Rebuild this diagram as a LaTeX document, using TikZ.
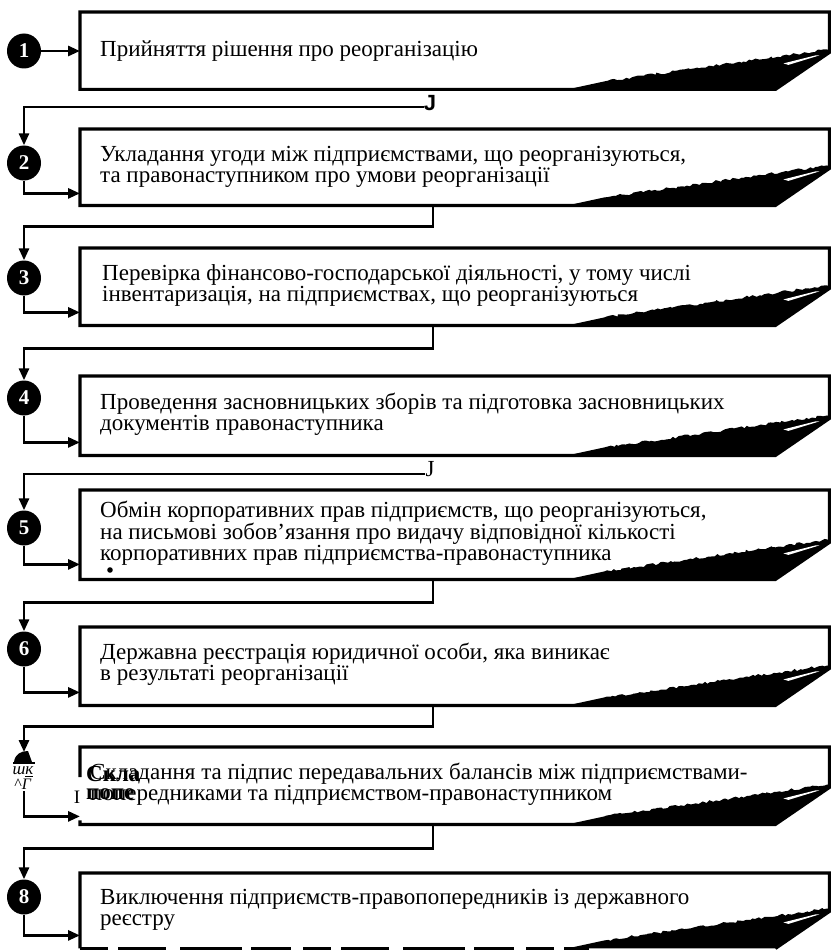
\documentclass[tikz,border=0pt]{standalone}
\usepackage{fontspec}
\setmainfont{Liberation Serif}
\newfontfamily\jsans{Liberation Sans}
\usetikzlibrary{arrows.meta,shapes.geometric,decorations.pathmorphing}

% black curled corner at the lower right of a step box
\newcommand\pagecurl[1]{%
  \fill ([xshift=-262pt]#1.south east) -- ([xshift=-225pt,yshift=8pt]#1.south east)
    decorate[decoration={random steps,segment length=3pt,amplitude=1.3pt}]{-- ([xshift=-2pt,yshift=40pt]#1.south east)}
    -- ([yshift=37pt]#1.south east) -- ([xshift=-54pt]#1.south east) -- cycle;
  \fill[white] ([xshift=-46pt,yshift=26pt]#1.south east) -- ([xshift=-14pt,yshift=34pt]#1.south east)
    -- ([xshift=-10pt,yshift=34pt]#1.south east) -- ([xshift=-41pt,yshift=24.5pt]#1.south east) -- cycle;}
% full outline of a step box
\newcommand\curlbox[1]{%
  \draw[frame] (#1.north west) -- (#1.north east) -- ([yshift=37pt]#1.south east)
    -- ([xshift=-54pt]#1.south east) -- (#1.south west) -- cycle;
  \pagecurl{#1}}

\begin{document}
\begin{tikzpicture}[x=1pt,y=-1pt,
  frame/.style={line width=3.2pt,line join=miter},
  link/.style={line width=2.8pt,-{Triangle[length=12pt,width=10pt]}},
  num/.style={ellipse,fill=black,minimum width=34pt,minimum height=35pt,inner sep=0pt,
    text=white,font=\fontsize{21}{21}\selectfont\bfseries},
  area/.style={draw=none,minimum width=749pt,anchor=north west,inner sep=0pt},
  txt/.style={anchor=west,align=left,inner sep=0pt,font=\fontsize{23}{21}\selectfont}]
\fill[white] (0,0) rectangle (830,952);
\useasboundingbox (0,0) rectangle (830,952);

% step areas
\node[area,minimum height=77pt] (b1) at (80,12) {};
\node[area,minimum height=76pt] (b2) at (80,129) {};
\node[area,minimum height=77pt] (b3) at (80,248) {};
\node[area,minimum height=79pt] (b4) at (80,376) {};
\node[area,minimum height=89pt] (b5) at (80,490) {};
\node[area,minimum height=78pt] (b6) at (80,627) {};
\node[area,minimum height=77pt] (b7) at (80,747) {};
\node[area,minimum height=75pt] (b8) at (80,873) {};

\curlbox{b1}
\curlbox{b2}
\curlbox{b3}
\curlbox{b4}
\curlbox{b5}
\curlbox{b6}
% box 7: left edge only partly printed
\draw[frame] ([yshift=-30pt]b7.north west) -- (b7.north west) -- (b7.north east)
  -- ([yshift=37pt]b7.south east) -- ([xshift=-54pt]b7.south east) -- (b7.south west)
  -- ([yshift=4pt]b7.south west);
\pagecurl{b7}
% box 8: broken bottom edge
\draw[frame] (b8.south west) -- (b8.north west) -- (b8.north east)
  -- ([yshift=37pt]b8.south east) -- ([xshift=-54pt]b8.south east);
\draw[frame,dash pattern=on 28pt off 10pt on 48pt off 14pt on 62pt off 9pt on 40pt off 12pt]
  (b8.south west) -- ([xshift=-240pt]b8.south east);
\pagecurl{b8}

% texts
\node[txt] (t1) at (100,51) {Прийняття рішення про реорганізацію};
\node[txt] (t2) at (100,167) {Укладання угоди між підприємствами, що реорганізуються,\\та правонаступником про умови реорганізації};
\node[txt] (t3) at (102,286) {Перевірка фінансово-господарської діяльності, у тому числі\\інвентаризація, на підприємствах, що реорганізуються};
\node[txt] (t4) at (100,414) {Проведення засновницьких зборів та підготовка засновницьких\\документів правонаступника};
\node[txt] (t5) at (100,533) {Обмін корпоративних прав підприємств, що реорганізуються,\\на письмові зобов'язання про видачу відповідної кількості\\корпоративних прав підприємства-правонаступника};
\node[txt] (t6) at (100,664) {Державна реєстрація юридичної особи, яка виникає\\в результаті реорганізації};
\node[txt] (t7) at (90,784) {Складання та підпис передавальних балансів між підприємствами-\\попередниками та підприємством-правонаступником};
\node[txt,font=\fontsize{23}{21}\selectfont\bfseries] (t7a) at (86,773.5) {Скла};
\node[txt,font=\fontsize{23}{21}\selectfont\bfseries] (t7b) at (86,794.5) {попе};
\node[txt] (t8) at (100,910) {Виключення підприємств-правопопередників із державного\\реєстру};
\fill (110,570) circle (2.8pt);
\node[font=\fontsize{19}{19}\selectfont,inner sep=0pt] (i7) at (77,797) {I};

% step numbers
\node[num] (c1) at (24,51) {1};
\node[num] (c2) at (24,163) {2};
\node[num] (c3) at (24,278) {3};
\node[num] (c4) at (24,398) {4};
\node[num] (c5) at (24,528) {5};
\node[num] (c6) at (24,649) {6};
\node[num] (c8) at (24,897) {8};
% damaged marker of step 7
\coordinate (c7top) at (24,752);
\coordinate (c7bot) at (24,791);
\fill (14,762) .. controls (15,754) and (21,751) .. (28,751) -- (32,762) -- cycle;
\draw[line width=1.3pt] (13,763) -- (35,763);
\node[inner sep=0pt,font=\fontsize{17}{17}\selectfont\itshape] (s7a) at (23,772) {ш\underline{к}};
\node[inner sep=0pt,font=\fontsize{16}{16}\selectfont] (s7b) at (23,784) {\textasciicircum\textit{Г}};

% J marks
\node[inner sep=0pt,font=\fontsize{22}{22}\selectfont\jsans\bfseries] (j1) at (430,103) {J};
\node[inner sep=0pt,font=\fontsize{23}{23}\selectfont] (j2) at (430,469) {J};

% connectors into each box
\draw[link] (c1.east) -- (c1.east -| b1.west);
\foreach \i/\d in {2/12,3/13,4/13,5/15,6/13,8/13}
  \draw[link] (c\i.south) |- ([yshift=\d pt]b\i.south west);
\draw[link] (c7bot) |- ([yshift=8pt]b7.south west);

% connectors between steps
\draw[link] ([yshift=-4pt]j1.west) -| (c2.north);
\draw[link] ([xshift=353pt]b2.south west) -- ++(0,21) -| (c3.north);
\draw[link] ([xshift=353pt]b3.south west) -- ++(0,23) -| (c4.north);
\draw[link] ([yshift=-5pt]j2.west) -| (c5.north);
\draw[link] ([xshift=353pt]b5.south west) -- ++(0,23) -| (c6.north);
\draw[link] ([xshift=353pt]b6.south west) -- ++(0,21) -| (c7top);
\draw[link] ([xshift=353pt]b7.south west) -- ++(0,24) -| (c8.north);
\end{tikzpicture}
\end{document}
